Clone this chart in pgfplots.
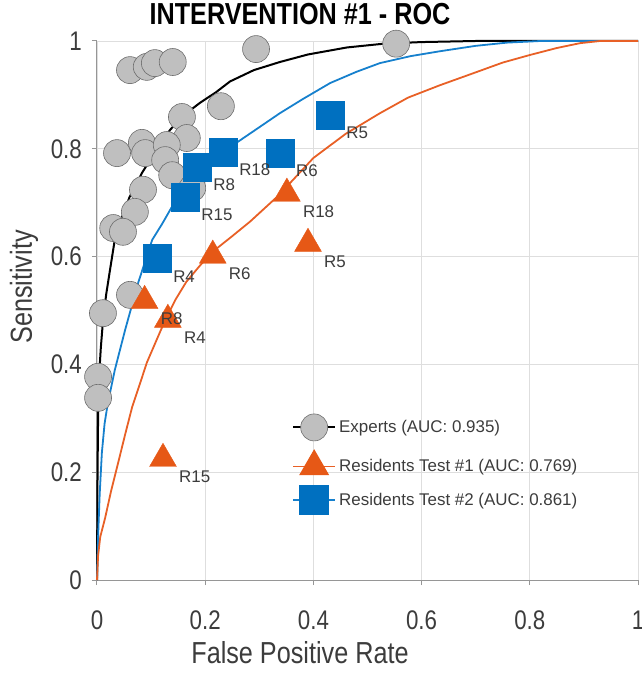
\documentclass[border=0pt]{standalone}
\usepackage{fontspec}
\setmainfont{Liberation Sans}
\newfontfamily\narrowfont[FakeStretch=0.83]{Liberation Sans}
\usepackage{pgfplots}
\pgfplotsset{compat=1.18}
\definecolor{expfill}{RGB}{191,191,191}
\definecolor{expdraw}{RGB}{110,110,110}
\definecolor{resorange}{RGB}{230,88,22}
\definecolor{orangeline}{RGB}{232,96,38}
\definecolor{resblue}{RGB}{0,112,192}
\definecolor{blueline}{RGB}{22,128,205}
\definecolor{axisgray}{RGB}{150,150,150}
\definecolor{gridgray}{RGB}{222,222,222}
\definecolor{labelgray}{RGB}{60,60,60}
\pgfplotsset{rlabels/.style={only marks, mark=none, nodes near coords, point meta=explicit symbolic,
  nodes near coords style={anchor=west, xshift=16bp, yshift=-18bp, inner sep=0pt,
    font=\fontsize{17}{17}\selectfont, text=labelgray}, forget plot}}
\begin{document}
\begin{tikzpicture}
\begin{axis}[
  scale only axis, width=541bp, height=539bp,
  xmin=0, xmax=1, ymin=0, ymax=1,
  clip=false,
  axis x line*=bottom, axis y line*=left,
  axis line style={draw=axisgray, line width=1bp, -},
  xtick={0,0.2,0.4,0.6,0.8,1}, xticklabels={0,0.2,0.4,0.6,0.8,1},
  ytick={0,0.2,0.4,0.6,0.8,1}, yticklabels={0,0.2,0.4,0.6,0.8,1},
  tick align=outside, major tick length=5bp,
  tick style={draw=axisgray, line width=1bp},
  grid=major, grid style={draw=gridgray, line width=0.8bp},
  ticklabel style={font=\narrowfont\fontsize{27}{27}\selectfont, text=labelgray},
  xticklabel style={anchor=base, inner sep=0pt, yshift=-44bp},
  yticklabel style={anchor=east, inner sep=0pt, xshift=-10bp},
  xlabel={False Positive Rate}, ylabel={Sensitivity},
  label style={font=\narrowfont\fontsize{30.5}{30.5}\selectfont, text=labelgray},
  xlabel style={at={(axis description cs:0.3752,-0.154)}, anchor=base},
  ylabel style={at={(axis description cs:-0.135,0.5436)}, anchor=center, rotate=0},
  title={INTERVENTION \#1 - ROC},
  title style={at={(axis description cs:0.3752,1.0204)}, anchor=base, inner sep=0pt,
    font=\narrowfont\bfseries\fontsize{30.5}{30.5}\selectfont, text=black},
  legend style={at={(axis description cs:0.3604,0.215)}, anchor=west, draw=none, fill=none,
    font=\fontsize{17}{17}\selectfont, text=labelgray, row sep=10bp, inner sep=0pt,
    nodes={inner sep=3bp}},
  legend cell align=left,
  legend image code/.code={\draw[mark repeat=2,mark phase=2] plot coordinates {(0bp,0bp) (21bp,0bp) (42bp,0bp)};},
]
% ROC curves
\addplot[black, line width=2bp, forget plot] coordinates {
(0,0) (0.0005,0.1) (0.001,0.2) (0.002,0.3) (0.004,0.38) (0.007,0.43) (0.011,0.48)
(0.017,0.53) (0.024,0.575) (0.033,0.632) (0.045,0.67) (0.06,0.71) (0.083,0.755)
(0.105,0.79) (0.135,0.835) (0.16,0.862) (0.19,0.885) (0.22,0.905) (0.246,0.925)
(0.29,0.946) (0.338,0.961) (0.39,0.975) (0.462,0.988) (0.53,0.995) (0.6,0.998)
(0.7,1) (1,1)};
\addplot[blueline, line width=1.8bp, forget plot] coordinates {
(0,0) (0.002,0.08) (0.005,0.16) (0.009,0.236) (0.014,0.29) (0.02,0.328) (0.033,0.39)
(0.052,0.464) (0.076,0.551) (0.102,0.631) (0.12,0.66) (0.14,0.695) (0.17,0.74)
(0.2,0.772) (0.23,0.795) (0.259,0.812) (0.3,0.84) (0.338,0.866) (0.38,0.892)
(0.431,0.922) (0.48,0.943) (0.523,0.959) (0.58,0.972) (0.634,0.981) (0.7,0.991)
(0.758,0.997) (0.82,1) (1,1)};
\addplot[orangeline, line width=1.8bp, forget plot] coordinates {
(0,0) (0.002,0.045) (0.006,0.08) (0.015,0.115) (0.026,0.165) (0.039,0.217) (0.052,0.27)
(0.065,0.321) (0.08,0.366) (0.092,0.403) (0.11,0.445) (0.126,0.482) (0.145,0.52)
(0.165,0.553) (0.19,0.583) (0.215,0.61) (0.25,0.638) (0.283,0.665) (0.333,0.711)
(0.362,0.742) (0.40,0.783) (0.46,0.828) (0.523,0.866) (0.575,0.895) (0.634,0.918)
(0.695,0.94) (0.75,0.96) (0.8,0.974) (0.85,0.987) (0.893,0.996) (0.93,1) (1,1)};
% Experts
\addplot[only marks, mark=*, mark size=13.5bp, mark options={fill=expfill, draw=expdraw, line width=0.6bp}, forget plot] coordinates {
(0.553,0.995) (0.294,0.985) (0.061,0.946) (0.092,0.952) (0.107,0.959) (0.140,0.961)
(0.157,0.859) (0.229,0.879) (0.166,0.820) (0.037,0.792) (0.083,0.811) (0.089,0.792)
(0.129,0.807) (0.126,0.779) (0.139,0.751) (0.176,0.727) (0.085,0.724) (0.070,0.683)
(0.030,0.653) (0.048,0.646) (0.061,0.529) (0.011,0.495) (0.002,0.377) (0.002,0.338)};
% Residents Test #1
\pgfplotstableread{
x y lab
0.122 0.225 R15
0.088 0.518 R8
0.131 0.483 R4
0.214 0.602 R6
0.351 0.717 R18
0.390 0.624 R5
}\testone
% Residents Test #2
\pgfplotstableread{
x y lab
0.111 0.597 R4
0.163 0.711 R15
0.185 0.766 R8
0.233 0.794 R18
0.338 0.792 R6
0.431 0.863 R5
}\testtwo
\addplot[only marks, mark=triangle*, mark size=15.5bp, mark options={fill=resorange, draw=resorange}, forget plot]
  table[x=x, y=y] {\testone};
\addplot[only marks, mark=square*, mark size=14bp, mark options={fill=resblue, draw=resblue}, forget plot]
  table[x=x, y=y] {\testtwo};
\addplot[rlabels] table[x=x, y=y, meta=lab] {\testone};
\addplot[rlabels] table[x=x, y=y, meta=lab] {\testtwo};
\addlegendimage{black, line width=2bp, mark=*, mark size=13.5bp, mark options={fill=expfill, draw=expdraw, line width=0.6bp}}
\addlegendentry{Experts (AUC: 0.935)}
\addlegendimage{orangeline, line width=1.8bp, mark=triangle*, mark size=15.5bp, mark options={fill=resorange, draw=resorange}}
\addlegendentry{Residents Test \#1 (AUC: 0.769)}
\addlegendimage{blueline, line width=1.8bp, mark=square*, mark size=14bp, mark options={fill=resblue, draw=resblue}}
\addlegendentry{Residents Test \#2 (AUC: 0.861)}
\end{axis}
\pgfresetboundingbox
\path (-97bp,-95bp) rectangle (545bp,580bp);
\end{tikzpicture}
\end{document}
